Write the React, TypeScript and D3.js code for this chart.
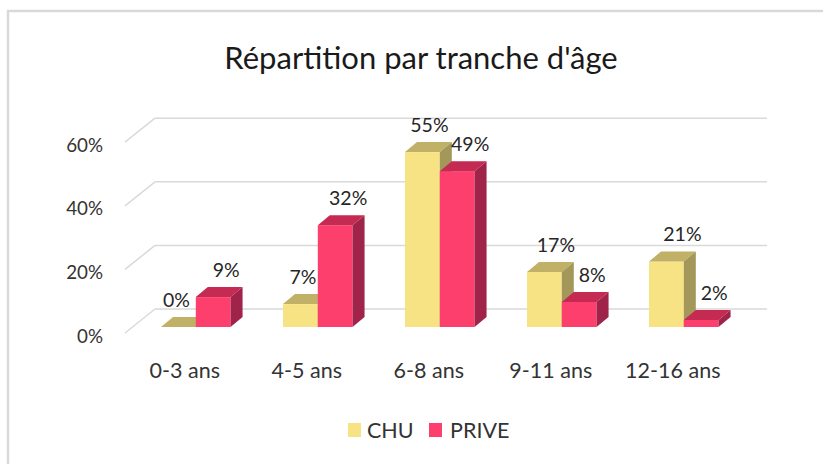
import React from 'react';
import * as d3 from 'd3';

// données (en %)
const categories = ['0-3 ans', '4-5 ans', '6-8 ans', '9-11 ans', '12-16 ans'];
const chuValues = [0, 7.2, 55, 17.3, 20.6];
const priveValues = [9.4, 32, 49, 7.9, 2.2];
const yTicks = [0, 20, 40, 60];
const seriesNames = ['CHU', 'PRIVE'];

const W = 823;
const H = 464;
const FONT = 'Lato, "Open Sans", sans-serif';

const colors: Record<string, { front: string; top: string; side: string }> = {
  CHU: { front: '#F7E384', top: '#C1B166', side: '#A3975A' },
  PRIVE: { front: '#FC3F6D', top: '#C42A52', side: '#A0244A' },
};

// profondeur 3D
const DX = 12;
const DY = -10;

export default function App() {
  const y = d3.scaleLinear().domain([0, 60]).range([327, 327 - 0.6 * 318]);

  const x = d3
    .scaleBand<string>()
    .domain(categories)
    .range([134.8, 744.8])
    .paddingInner(0.43)
    .paddingOuter(0.215);

  const xs = d3.scaleBand<string>().domain(seriesNames).range([0, x.bandwidth()]);

  const series = [
    { name: 'CHU', values: chuValues },
    { name: 'PRIVE', values: priveValues },
  ];

  const bars: React.ReactNode[] = [];
  const labels: React.ReactNode[] = [];

  categories.forEach((cat, i) => {
    series.forEach((s) => {
      const v = s.values[i];
      const x0 = (x(cat) ?? 0) + (xs(s.name) ?? 0);
      const x1 = x0 + xs.bandwidth();
      const yb = y(0);
      const yt = y(v);
      const c = colors[s.name];
      const key = `${cat}-${s.name}`;
      bars.push(
        <g key={key}>
          {v > 0 && <rect x={x0} y={yt} width={x1 - x0} height={yb - yt} fill={c.front} />}
          <path
            d={`M${x0},${yt}L${x0 + DX},${yt + DY}L${x1 + DX},${yt + DY}L${x1},${yt}Z`}
            fill={c.top}
          />
          {v > 0 && (
            <path
              d={`M${x1},${yt}L${x1 + DX},${yt + DY}L${x1 + DX},${yb + DY}L${x1},${yb}Z`}
              fill={c.side}
            />
          )}
        </g>
      );
      const off = s.name === 'CHU' ? i * 4.5 - 2 : 13;
      labels.push(
        <text
          key={key}
          x={(x0 + x1) / 2 + off}
          y={yt + DY - 17}
          dy="0.35em"
          textAnchor="middle"
          fontSize={19.5}
          fill="#262626"
        >
          {`${Math.round(v)}%`}
        </text>
      );
    });
  });

  return (
    <svg
      width={W}
      height={H}
      style={{ position: 'absolute', left: 0, top: 0, fontFamily: FONT }}
    >
      <rect x={0} y={0} width={W} height={H} fill="#fff" />
      <rect x={8} y={11} width={W + 20} height={H + 20} fill="#fff" stroke="#d9d9d9" strokeWidth={2.5} />

      <text x={421} y={69} textAnchor="middle" fontSize={31} fill="#1a1a1a">
        Répartition par tranche d'âge
      </text>

      {/* quadrillage : mur du fond + sol */}
      {yTicks.map((t) => (
        <g key={t}>
          <line x1={125} y1={y(t) + 6} x2={155} y2={y(t) - 18} stroke="#d9d9d9" strokeWidth={1.5} />
          <line x1={155} y1={y(t) - 18} x2={767} y2={y(t) - 18} stroke="#d9d9d9" strokeWidth={1.5} />
          <text x={103} y={y(t) + 9} dy="0.35em" textAnchor="end" fontSize={18.8} fill="#333">
            {`${t}%`}
          </text>
        </g>
      ))}

      {bars}
      {labels}

      {categories.map((cat) => (
        <text
          key={cat}
          x={(x(cat) ?? 0) + x.bandwidth() / 2 - 11}
          y={378}
          textAnchor="middle"
          fontSize={21.5}
          fill="#333"
        >
          {cat}
        </text>
      ))}

      {/* légende */}
      <rect x={348} y={423} width={13} height={14} fill={colors.CHU.front} />
      <text x={367} y={430} dy="0.35em" fontSize={21.5} fill="#333">CHU</text>
      <rect x={429} y={423} width={13} height={14} fill={colors.PRIVE.front} />
      <text x={450} y={430} dy="0.35em" fontSize={21.5} fill="#333">PRIVE</text>
    </svg>
  );
}
